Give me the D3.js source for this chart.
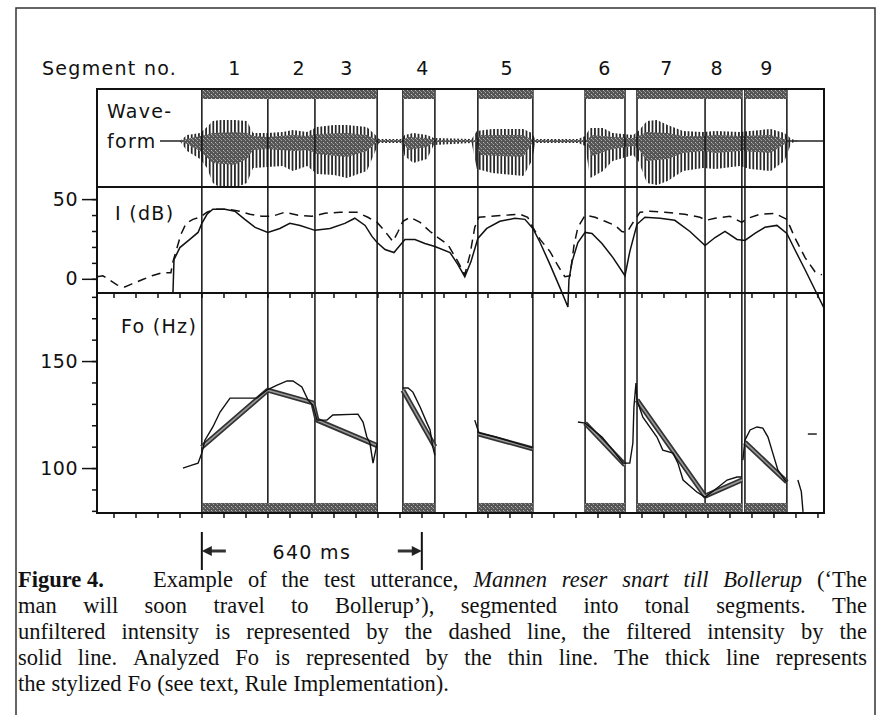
<!DOCTYPE html>
<html>
<head>
<meta charset="utf-8">
<script src="https://cdn.jsdelivr.net/npm/d3@7"></script>
<style>
  body { margin: 0; background: #fff; }
  svg { display: block; }
  .plot-text { font-family: "DejaVu Sans", Verdana, sans-serif; font-size: 19px; letter-spacing: 1.3px; fill: #111; }
  .caption { font-family: "Liberation Serif", "Times New Roman", serif; font-size: 22.5px; fill: #111; }
</style>
</head>
<body>
<svg id="chart" width="881" height="715"></svg>
<script>
// ---------- data (times in ms from left edge of plot) ----------
const segmentLabels = ['1', '2', '3', '4', '5', '6', '7', '8', '9'];
const segmentLabelTimes = [401, 588, 727, 948, 1193, 1478, 1658, 1804, 1949];
const boundaryTimes = [305, 497, 634, 815, 890, 983, 1108, 1268, 1420, 1536, 1571, 1769, 1876, 1885, 2007];
const segmentBars = [[305, 815], [890, 983], [1108, 1268], [1420, 1536], [1571, 1876], [1885, 2007]];

// waveform envelope [t, up, down] and denser core
const waveEnvelope = [[241,0,0],[262,6,10],[300,8,18],[320,14,27],[337,20,42],[360,21,47],[400,21,47],
  [436,20,42],[454,8,27],[495,8,26],[540,9,25],[570,11,30],[611,9,25],[640,14,33],[690,16,34],[727,16,37],
  [785,14,30],[810,6,10],[820,2,2],[885,2,2],[895,6,15],[920,8,22],[960,6,18],[980,3,4],[1090,2,2],
  [1105,10,28],[1150,12,32],[1240,12,35],[1265,8,20],[1275,2,2],[1400,2,2],[1420,5,5],[1435,13,37],
  [1472,13,30],[1500,8,20],[1560,6,14],[1575,10,20],[1600,20,42],[1629,21,44],[1660,16,40],[1705,10,30],
  [1763,9,27],[1800,10,28],[1870,9,25],[1900,10,28],[1960,12,30],[2000,8,20],[2020,2,2],[2040,0,0]];
const waveCore = [[241,0,0],[262,2,3],[300,5,10],[337,8,22],[400,9,24],[436,8,18],[454,5,9],[495,4,8],
  [570,6,10],[611,5,9],[640,7,13],[727,8,16],[785,6,10],[815,1,1],[890,1,1],[905,4,9],[960,3,6],[980,1,1],
  [1105,1,1],[1115,6,14],[1240,6,16],[1268,1,1],[1425,1,1],[1440,6,15],[1500,4,8],[1560,3,5],[1575,5,8],
  [1600,9,20],[1660,8,18],[1705,5,12],[1763,5,10],[1800,6,12],[1870,5,10],[1960,6,12],[2010,1,1]];

// intensity, dB
const intensityUnfiltered = [[0,1.3],[17,1.9],[32,0],[58,-3.8],[81,-5.1],[102,-3.2],[131,-0.6],[160,1.9],
  [189,3.8],[215,3.8],[221,10.8],[233,19.6],[244,27.8],[259,34.8],[279,37.3],[300,38.6],[320,41.8],[343,43.7],
  [381,43.7],[416,42.4],[445,40.5],[480,39.2],[509,39.2],[547,41.8],[585,39.9],[625,39.2],[663,41.1],[707,41.8],
  [756,41.8],[788,38.6],[815,35.4],[838,29.7],[861,23.4],[876,29.7],[890,36.1],[911,38.6],[940,35.4],[969,29.7],
  [992,25.9],[1021,21.5],[1050,10.8],[1070,2.5],[1085,15.2],[1099,32.3],[1111,38.6],[1143,39.2],[1187,39.9],
  [1230,40.5],[1253,38.6],[1268,32.3],[1289,24.7],[1318,17.1],[1341,8.2],[1361,1.3],[1376,1.9],[1388,21.5],
  [1399,32.3],[1420,39.9],[1449,38.6],[1478,36.1],[1507,33.5],[1527,29.7],[1542,29.1],[1556,34.2],[1580,41.8],
  [1609,42.4],[1652,41.8],[1710,40.5],[1754,38.6],[1772,36.7],[1798,38.0],[1841,39.2],[1876,35.4],[1894,38.0],
  [1929,40.5],[1972,41.1],[2007,37.3],[2030,25.9],[2060,13.3],[2089,4.4],[2109,2.5]];
const intensityFiltered = [[221,-8.9],[224,12.0],[241,19.6],[270,24.7],[294,29.1],[305,34.8],[320,40.5],[337,43.7],
  [372,43.7],[401,42.4],[430,37.3],[460,32.3],[497,29.1],[532,31.6],[561,34.8],[591,33.5],[634,30.4],[678,31.6],
  [721,34.8],[750,38.0],[780,33.5],[800,26.6],[815,22.8],[838,18.4],[864,16.5],[881,20.9],[896,24.7],[925,24.7],
  [954,22.2],[983,20.3],[1027,16.5],[1050,8.9],[1070,1.3],[1088,10.8],[1108,25.3],[1134,31.6],[1172,36.1],
  [1216,38.0],[1245,37.3],[1268,31.6],[1289,22.8],[1318,8.9],[1347,-5.7],[1370,-17.7],[1373,-0.6],[1382,10.8],
  [1399,22.8],[1420,29.1],[1440,28.5],[1469,22.2],[1501,13.3],[1536,1.9],[1550,17.1],[1571,34.2],[1594,38.6],
  [1638,38.0],[1681,36.7],[1725,29.7],[1769,20.9],[1798,25.9],[1827,29.7],[1862,24.7],[1885,24.1],[1914,28.5],
  [1943,32.3],[1978,33.5],[2007,28.5],[2030,18.4],[2060,5.7],[2089,-7.0],[2115,-18.4]];

// analyzed Fo (thin), Hz, in separate voiced pieces
const foAnalyzed = [
  [[250,100],[276,101.4],[294,102.3],[305,107],[314,113],[337,119.2],[358,126.2],[387,132.7],[465,132.7],
   [494,136.4],[524,138.8],[553,140.7],[570,140.7],[596,137.9],[614,131.8],[628,129.4],[640,122.4],[669,122.4],
   [686,124.8],[759,125.2],[774,121.5],[785,114.5],[794,111.7],[803,102.3],[809,107],[815,111.7]],
  [[890,137.4],[905,137.4],[919,135.5],[940,128.5],[960,121],[969,117.8],[977,109.8],[983,106]],
  [[1099,122.4],[1111,116.4],[1160,114.5],[1210,112.1],[1259,109.8],[1268,109.3]],
  [[1399,121.5],[1420,121],[1469,114.5],[1501,108.4],[1530,102.3],[1550,102.3],[1559,111.7],[1562,128.5],
   [1568,139.7],[1571,131.8],[1588,123.8],[1629,114.5],[1646,108.4],[1676,107],[1690,102.3],[1705,94.4],
   [1745,88.8],[1769,86.4],[1804,90.7],[1833,94.4],[1862,95.8],[1876,95.8]],
  [[1879,103.7],[1885,113],[1900,117.8],[1920,119.2],[1937,118.7],[1952,114.5],[1966,107],[1981,99],
   [2001,94.4],[2007,93.5]],
  [[2039,94.4],[2049,89],[2054,79.5]],
  [[2068,115.9],[2094,115.9]]
];
// stylized Fo (thick)
const foStylized = [
  [[305,109.8],[497,136.4],[628,130.5],[640,122.4],[815,110.5]],
  [[890,136.4],[983,110]],
  [[1108,116],[1268,109]],
  [[1420,121],[1536,101.4]],
  [[1571,131.8],[1769,86.9],[1876,94.4]],
  [[1885,112],[2007,93.5]]
];

const intensityMajor = [0, 50];
const intensityMinor = [0, 10, 20, 30, 40, 50];
const foMajor = [100, 150];
const foMinor = [80, 90, 100, 110, 120, 130, 140, 150, 160, 170, 180];
const timeTicks = d3.range(48, 2115, 64);
const spanMarks = [305, 945];

const captionLines = [
  [{ t: 'Example of the test utterance,', s: 'n' }, { t: 'Mannen reser snart till Bollerup', s: 'i' }, { t: '(\u2018The', s: 'n' }],
  [{ t: 'man will soon travel to Bollerup\u2019), segmented into tonal segments. The', s: 'n' }],
  [{ t: 'unfiltered intensity is represented by the dashed line, the filtered intensity by the', s: 'n' }],
  [{ t: 'solid line. Analyzed Fo is represented by the thin line. The thick line represents', s: 'n' }],
  [{ t: 'the stylized Fo (see text, Rule Implementation).', s: 'n' }]
];

// ---------- layout ----------
const svg = d3.select('#chart');
const plotLeft = 97, plotRight = 824;
const plotTop = 89, waveBottom = 187, intBottom = 293, plotBottom = 513;

const x = d3.scaleLinear().domain([0, 2115]).range([plotLeft, plotRight]);
const yW = d3.scaleLinear().domain([-46, 52]).range([waveBottom, plotTop]);
const yI = d3.scaleLinear().domain([-8.9, 57.6]).range([intBottom, waveBottom]);
const yF = d3.scaleLinear().domain([79, 181.8]).range([plotBottom, intBottom]);

// patterns
const defs = svg.append('defs');
const stripes = defs.append('pattern').attr('id', 'pulses')
  .attr('patternUnits', 'userSpaceOnUse').attr('width', 3.6).attr('height', 4);
stripes.append('rect').attr('width', 1.8).attr('height', 4).attr('fill', '#2a2a2a');
const speck = defs.append('pattern').attr('id', 'speck')
  .attr('patternUnits', 'userSpaceOnUse').attr('width', 4).attr('height', 4);
speck.append('rect').attr('width', 4).attr('height', 4).attr('fill', '#555');
speck.append('rect').attr('x', 1).attr('y', 0).attr('width', 1).attr('height', 1).attr('fill', '#aaa');
speck.append('rect').attr('x', 3).attr('y', 2).attr('width', 1).attr('height', 1).attr('fill', '#bbb');
speck.append('rect').attr('x', 0).attr('y', 3).attr('width', 1).attr('height', 1).attr('fill', '#888');

// outer frame
svg.append('path')
  .attr('d', 'M16,715V8H875V715')
  .attr('fill', 'none').attr('stroke', '#333').attr('stroke-width', 1.5);

// segment labels
svg.append('text').attr('class', 'plot-text').attr('x', 42).attr('y', 75).text('Segment no.');
svg.selectAll('.seg-label').data(segmentLabels).enter().append('text')
  .attr('class', 'plot-text seg-label')
  .attr('text-anchor', 'middle')
  .attr('x', (d, i) => x(segmentLabelTimes[i]))
  .attr('y', 75)
  .text(d => d);

const plot = svg.append('g');

// waveform
plot.append('line')
  .attr('x1', 160).attr('x2', plotRight).attr('y1', yW(0)).attr('y2', yW(0))
  .attr('stroke', '#222').attr('stroke-width', 1.5);
plot.append('path').datum(waveEnvelope)
  .attr('d', d3.area().x(d => x(d[0])).y0(d => yW(-d[2])).y1(d => yW(d[1])))
  .attr('fill', 'url(#pulses)');
plot.append('path').datum(waveCore)
  .attr('d', d3.area().x(d => x(d[0])).y0(d => yW(-d[2])).y1(d => yW(d[1])))
  .attr('fill', 'url(#speck)');

// segment boundaries
plot.selectAll('.boundary').data(boundaryTimes).enter().append('line')
  .attr('class', 'boundary')
  .attr('x1', d => x(d)).attr('x2', d => x(d))
  .attr('y1', plotTop).attr('y2', plotBottom)
  .attr('stroke', '#111').attr('stroke-width', 1.5);

// segment bars top and bottom
[plotTop, plotBottom - 10].forEach(yy => {
  plot.selectAll(null).data(segmentBars).enter().append('rect')
    .attr('x', d => x(d[0])).attr('width', d => x(d[1]) - x(d[0]))
    .attr('y', yy).attr('height', 10)
    .attr('fill', 'url(#speck)');
});

// panel borders
plot.append('rect')
  .attr('x', plotLeft).attr('y', plotTop).attr('width', plotRight - plotLeft).attr('height', plotBottom - plotTop)
  .attr('fill', 'none').attr('stroke', '#111').attr('stroke-width', 2);
[waveBottom, intBottom].forEach(yy => {
  plot.append('line').attr('x1', plotLeft).attr('x2', plotRight).attr('y1', yy).attr('y2', yy)
    .attr('stroke', '#111').attr('stroke-width', 2);
});

// time ticks
[intBottom, plotBottom].forEach(yy => {
  const g = plot.append('g').attr('transform', `translate(0,${yy})`)
    .call(d3.axisBottom(x).tickValues(timeTicks).tickSize(5).tickSizeOuter(0).tickFormat(''));
  g.select('.domain').remove();
  g.selectAll('line').attr('stroke', '#111').attr('stroke-width', 1.5);
});

// left axes
function leftAxis(scale, minor, major) {
  const gMin = plot.append('g').attr('transform', `translate(${plotLeft},0)`)
    .call(d3.axisLeft(scale).tickValues(minor).tickSize(5).tickSizeOuter(0).tickFormat(''));
  gMin.select('.domain').remove();
  gMin.selectAll('line').attr('stroke', '#111').attr('stroke-width', 1.5);
  const gMaj = plot.append('g').attr('transform', `translate(${plotLeft},0)`)
    .call(d3.axisLeft(scale).tickValues(major).tickSize(15).tickPadding(4).tickSizeOuter(0));
  gMaj.select('.domain').remove();
  gMaj.selectAll('line').attr('stroke', '#111').attr('stroke-width', 1.5);
  gMaj.attr('font-family', null).attr('font-size', null);
  gMaj.selectAll('text').attr('class', 'plot-text').attr('fill', null)
    .style('letter-spacing', '0.5px');
}
leftAxis(yI, intensityMinor, intensityMajor);
leftAxis(yF, foMinor, foMajor);

// intensity curves
const lineI = d3.line().x(d => x(d[0])).y(d => yI(d[1]));
plot.append('path').datum(intensityUnfiltered)
  .attr('d', lineI).attr('fill', 'none')
  .attr('stroke', '#111').attr('stroke-width', 1.5).attr('stroke-dasharray', '9,6');
plot.append('path').datum(intensityFiltered)
  .attr('d', lineI).attr('fill', 'none')
  .attr('stroke', '#111').attr('stroke-width', 1.5);

// Fo curves
const lineF = d3.line().x(d => x(d[0])).y(d => yF(d[1]));
plot.selectAll('.fo-thick-out').data(foStylized).enter().append('path')
  .attr('d', lineF).attr('fill', 'none')
  .attr('stroke', '#333').attr('stroke-width', 5).attr('stroke-linejoin', 'round');
plot.selectAll('.fo-thick-in').data(foStylized).enter().append('path')
  .attr('d', lineF).attr('fill', 'none')
  .attr('stroke', '#999').attr('stroke-width', 1.6).attr('stroke-linejoin', 'round');
plot.selectAll('.fo-thin').data(foAnalyzed).enter().append('path')
  .attr('d', lineF).attr('fill', 'none')
  .attr('stroke', '#111').attr('stroke-width', 1.4);

// panel labels
svg.append('text').attr('class', 'plot-text').attr('x', 107).attr('y', 118).text('Wave-');
svg.append('text').attr('class', 'plot-text').attr('x', 107).attr('y', 148).text('form');
svg.append('text').attr('class', 'plot-text').attr('x', 115).attr('y', 220).text('I (dB)');
svg.append('text').attr('class', 'plot-text').attr('x', 121).attr('y', 333).text('Fo (Hz)');

// 640 ms span
const spanG = svg.append('g');
spanMarks.forEach((t, i) => {
  const xx = x(t);
  spanG.append('line').attr('x1', xx).attr('x2', xx).attr('y1', 532).attr('y2', 570)
    .attr('stroke', '#111').attr('stroke-width', 2);
  const dir = i === 0 ? 1 : -1;
  spanG.append('line').attr('x1', xx + dir * 8).attr('x2', xx + dir * 24).attr('y1', 551).attr('y2', 551)
    .attr('stroke', '#333').attr('stroke-width', 3);
  spanG.append('path')
    .attr('d', `M${xx},551L${xx + dir * 10},546L${xx + dir * 10},556Z`)
    .attr('fill', '#222');
});
spanG.append('text').attr('class', 'plot-text').attr('text-anchor', 'middle')
  .attr('x', (x(spanMarks[0]) + x(spanMarks[1])) / 2).attr('y', 559).text('640 ms');

// caption, justified
const cap = svg.append('g').attr('class', 'caption');
const capLeft = 18, capRight = 867, capTop = 587, capStep = 26;
cap.append('text').attr('x', capLeft).attr('y', capTop).attr('font-weight', 'bold').text('Figure 4.');

captionLines.forEach((runs, li) => {
  const words = [];
  runs.forEach(r => r.t.split(' ').forEach(w => words.push({ w, s: r.s })));
  const y = capTop + li * capStep;
  const nodes = words.map(d => {
    const t = cap.append('text').attr('y', y).text(d.w)
      .attr('font-style', d.s === 'i' ? 'italic' : 'normal');
    return { sel: t, width: t.node().getComputedTextLength() };
  });
  const startX = li === 0 ? 153 : capLeft;
  const total = d3.sum(nodes, n => n.width);
  const last = li === captionLines.length - 1;
  const gap = last ? 6 : Math.max(3, (capRight - startX - total) / (nodes.length - 1));
  let cx = startX;
  nodes.forEach(n => { n.sel.attr('x', cx); cx += n.width + gap; });
});
</script>
</body>
</html>
